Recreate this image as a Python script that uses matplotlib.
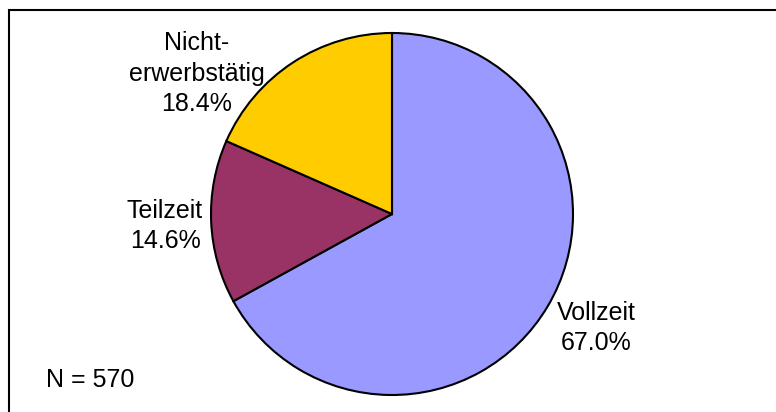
import matplotlib
matplotlib.use("Agg")
import matplotlib.pyplot as plt
from matplotlib.patches import Rectangle

plt.rcParams['font.family'] = ['Liberation Sans', 'DejaVu Sans']

categories = ["Vollzeit", "Teilzeit", "Nicht-\nerwerbstätig"]
values = [67.0, 14.6, 18.4]
colors = ["#9999FF", "#993366", "#FFCC00"]
n_label = "N = 570"

W, H = 776, 412
fig = plt.figure(figsize=(W / 100, H / 100), dpi=100)
ax = fig.add_axes([0, 0, 1, 1])

def py(y):
    return H - y

ax.pie(values, colors=colors, startangle=90, counterclock=False,
       center=(392, py(214)), radius=181, frame=True,
       wedgeprops=dict(edgecolor='black', linewidth=1.5))
ax.set_xlim(0, W)
ax.set_ylim(0, H)
ax.set_aspect('equal')
ax.axis('off')

ax.add_patch(Rectangle((9, -20), 820, py(10) + 20, fill=False,
                       edgecolor='black', linewidth=1.5))

# label positions (pixel coords: center x, last-line baseline y)
label_pos = [(596, 350), (165, 248), (197, 111)]
for cat, val, (x, y) in zip(categories, values, label_pos):
    ax.text(x, py(y), f"{cat}\n{val:.1f}%", ha='center', va='baseline',
            multialignment='center', fontsize=18, linespacing=1.33, color='black')

ax.text(46, py(387), n_label, ha='left', va='baseline', fontsize=18, color='black')

fig.savefig("out.png", dpi=100)
